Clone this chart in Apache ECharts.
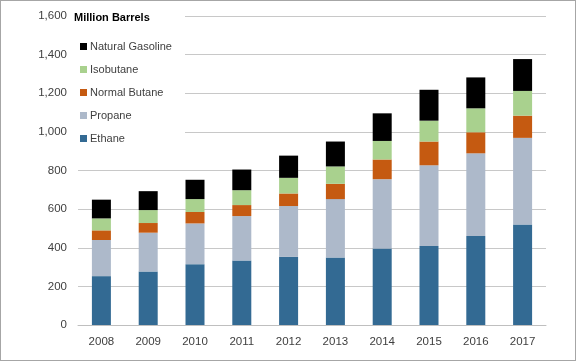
<!DOCTYPE html>
<html><head><meta charset="utf-8">
<script src="https://cdn.jsdelivr.net/npm/echarts@6/dist/echarts.min.js"></script>
<style>html,body{margin:0;padding:0;background:#fff}#c{width:576px;height:361px;box-sizing:border-box;border:1px solid #a6a6a6}</style>
</head><body><div id="c"></div>
<script>
const years = ['2008','2009','2010','2011','2012','2013','2014','2015','2016','2017'];
const ethane = [253, 277, 315, 334, 353, 349, 396, 409, 461, 520];
const propane = [187, 201, 211, 230, 263, 303, 359, 418, 428, 449];
const normalButane = [50, 50, 59, 57, 65, 79, 102, 123, 109, 115];
const isobutane = [62, 67, 67, 77, 81, 90, 96, 108, 124, 128];
const naturalGasoline = [97, 98, 100, 107, 115, 129, 143, 160, 160, 165];
const yTicks = [0, 200, 400, 600, 800, 1000, 1200, 1400, 1600];

const font = 'Liberation Sans, Arial, sans-serif';
const chart = echarts.init(document.getElementById('c'), null, {renderer: 'canvas'});
const mk = (name, data, color) => ({
  name, type: 'bar', stack: 'total', data, barWidth: 19,
  itemStyle: {color}, emphasis: {disabled: true}
});
chart.setOption({
  animation: false,
  textStyle: {fontFamily: font},
  grid: {left: 77, right: 29, top: 15, bottom: 35, containLabel: false},
  graphic: [{type: 'rect', z: 1, silent: true,
    shape: {x: 70, y: 8, width: 114, height: 145}, style: {fill: '#fff'}}],
  title: {text: 'Million Barrels', left: 68, top: 6,
    textStyle: {fontSize: 11, fontWeight: 'bold', color: '#000', fontFamily: font}},
  legend: {
    orient: 'vertical', left: 74, top: 35, itemWidth: 7, itemHeight: 7, itemGap: 12,
    icon: 'rect',
    data: ['Natural Gasoline', 'Isobutane', 'Normal Butane', 'Propane', 'Ethane'],
    textStyle: {fontSize: 11, color: '#404040', fontFamily: font, padding: [0, 0, 0, -2]}
  },
  xAxis: {
    type: 'category', data: years,
    axisLine: {lineStyle: {color: '#bfbfbf'}}, axisTick: {show: false},
    axisLabel: {color: '#404040', fontSize: 11.5, margin: 11, fontFamily: font}
  },
  yAxis: {
    type: 'value', min: yTicks[0], max: yTicks[yTicks.length - 1], interval: 200,
    axisLine: {show: false}, axisTick: {show: false},
    splitLine: {lineStyle: {color: '#c8c8c8'}},
    axisLabel: {color: '#404040', fontSize: 11.5, margin: 11, fontFamily: font,
      formatter: v => v.toLocaleString('en-US')}
  },
  series: [
    mk('Ethane', ethane, '#336a93'),
    mk('Propane', propane, '#adb9ca'),
    mk('Normal Butane', normalButane, '#c55a11'),
    mk('Isobutane', isobutane, '#a9d18e'),
    mk('Natural Gasoline', naturalGasoline, '#000000')
  ]
});
</script></body></html>
